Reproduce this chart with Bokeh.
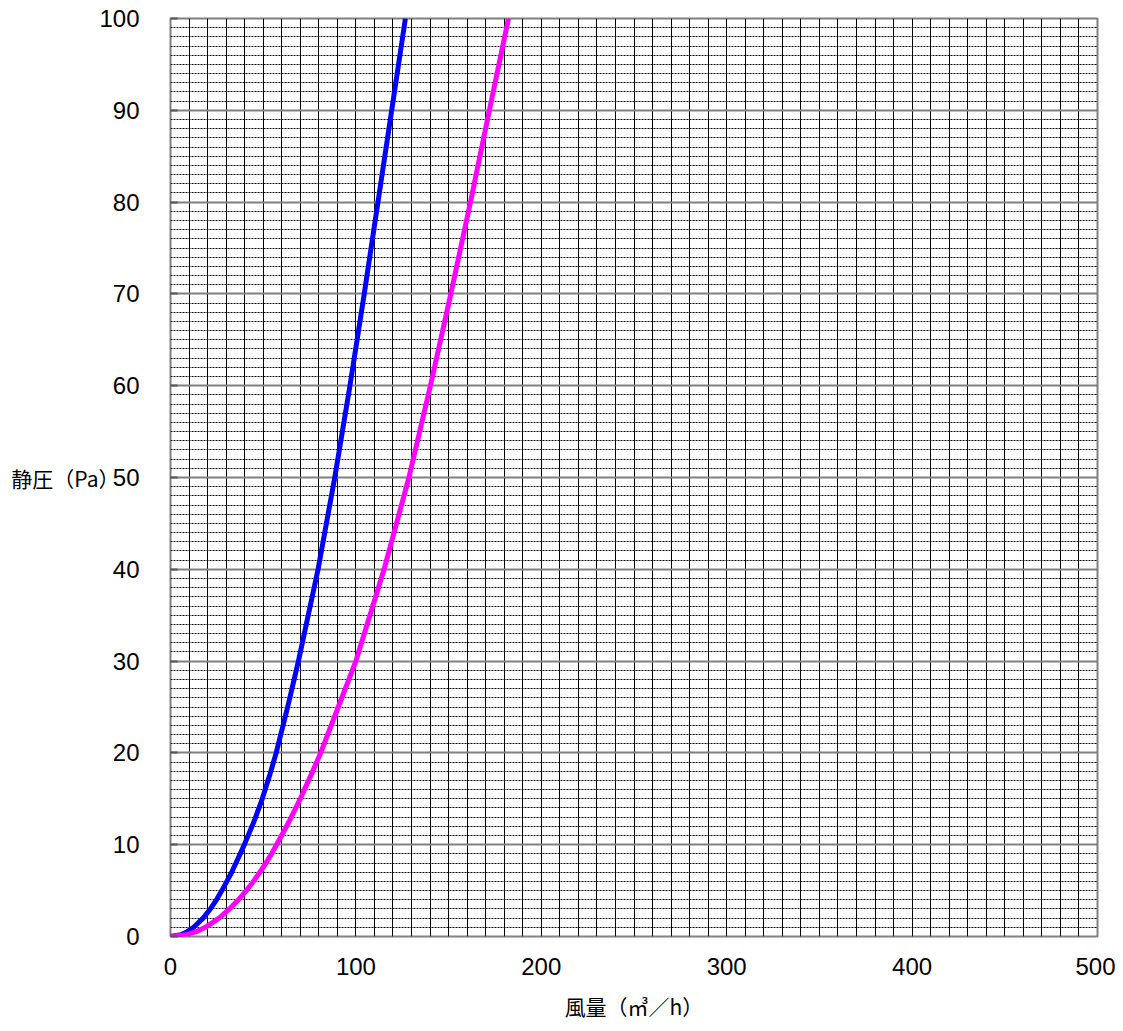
from bokeh.plotting import figure
from bokeh.models import SingleIntervalTicker, FixedTicker, Range1d
from bokeh.embed import file_html
from bokeh.resources import INLINE

# Data (静圧 Pa vs 風量 m3/h)
blue_y = [0, 0.2, 0.5, 1, 2, 3, 4, 5, 6, 7, 8, 9, 10, 12.5, 15, 17.5, 20, 25, 30, 40, 50,
          60, 70, 80, 90, 100]
blue_x = [0, 5.6, 8.8, 12.5, 17.6, 21.5, 24.8, 27.7, 30.4, 33.0, 35.3, 37.6, 39.8, 45.0, 49.5,
          53.4, 57.0, 63.2, 69.0, 79.6, 88.6, 96.8, 104.5, 111.9, 119.3, 126.7]
mag_y = [0, 0.2, 0.5, 1, 2, 3, 4, 5, 6, 7, 8, 9, 10, 12.5, 15, 17.5, 20, 25, 30, 40, 50,
         60, 70, 80, 90, 100]
mag_x = [0, 8.3, 13.5, 18.8, 26.2, 31.8, 36.6, 40.9, 44.7, 48.2, 51.5, 54.5, 57.2, 63.9, 70.0,
         75.6, 81.0, 90.5, 100.0, 115.2, 128.6, 140.2, 151.2, 161.8, 172.0, 182.3]

x_ticks = [0, 100, 200, 300, 400, 500]
y_ticks = [0, 10, 20, 30, 40, 50, 60, 70, 80, 90, 100]
x_label = "風量（㎥／h）"
y_label = "静圧（Pa）"

JP = "Noto Sans CJK JP"
NUM = "Liberation Sans"

p = figure(width=1115, height=1023, x_range=Range1d(0, 500), y_range=Range1d(0, 100),
           output_backend="svg", toolbar_location=None,
           min_border_left=170, min_border_right=18, min_border_top=18, min_border_bottom=85)

p.background_fill_color = "white"
p.border_fill_color = "white"
p.outline_line_color = "#808080"
p.outline_line_width = 2

# grid
p.xgrid.ticker = SingleIntervalTicker(interval=10, num_minor_ticks=0)
p.xgrid.grid_line_color = "black"
p.xgrid.grid_line_width = 1
p.xgrid.grid_line_alpha = 1.0

p.ygrid.ticker = SingleIntervalTicker(interval=10, num_minor_ticks=10)
p.ygrid.grid_line_color = "#808080"
p.ygrid.grid_line_width = 2
p.ygrid.grid_line_alpha = 1.0
p.ygrid.minor_grid_line_color = "black"
p.ygrid.minor_grid_line_dash = "2 1"
p.ygrid.minor_grid_line_width = 1

# axes
p.xaxis.ticker = FixedTicker(ticks=x_ticks)
p.yaxis.ticker = FixedTicker(ticks=y_ticks)
for ax in (p.xaxis[0], p.yaxis[0]):
    ax.axis_line_color = None
    ax.minor_tick_line_color = None
    ax.major_tick_out = 0
    ax.major_label_text_font = NUM
    ax.major_label_text_font_size = "24px"
    ax.major_label_text_color = "black"
p.xaxis.major_tick_in = 0
p.yaxis.major_tick_in = 7
p.yaxis.major_tick_line_color = "#555555"
p.yaxis.major_tick_line_width = 2
p.xaxis.major_label_standoff = 21
p.yaxis.major_label_standoff = 31

p.xaxis.axis_label = x_label
p.xaxis.axis_label_text_font = JP
p.xaxis.axis_label_text_font_size = "21px"
p.xaxis.axis_label_text_font_style = "normal"
p.xaxis.axis_label_text_color = "black"
p.xaxis.axis_label_standoff = 13

p.yaxis.axis_label = y_label
p.yaxis.axis_label_orientation = "horizontal"
p.yaxis.axis_label_text_font = JP
p.yaxis.axis_label_text_font_size = "21px"
p.yaxis.axis_label_text_font_style = "normal"
p.yaxis.axis_label_text_color = "black"
p.yaxis.axis_label_standoff = -23

# curves
p.line(blue_x, blue_y, line_color="#0000FF", line_width=5, line_join="round")
p.line(mag_x, mag_y, line_color="#FF00FF", line_width=5, line_join="round")

open("out.html", "w").write(file_html(p, INLINE))
